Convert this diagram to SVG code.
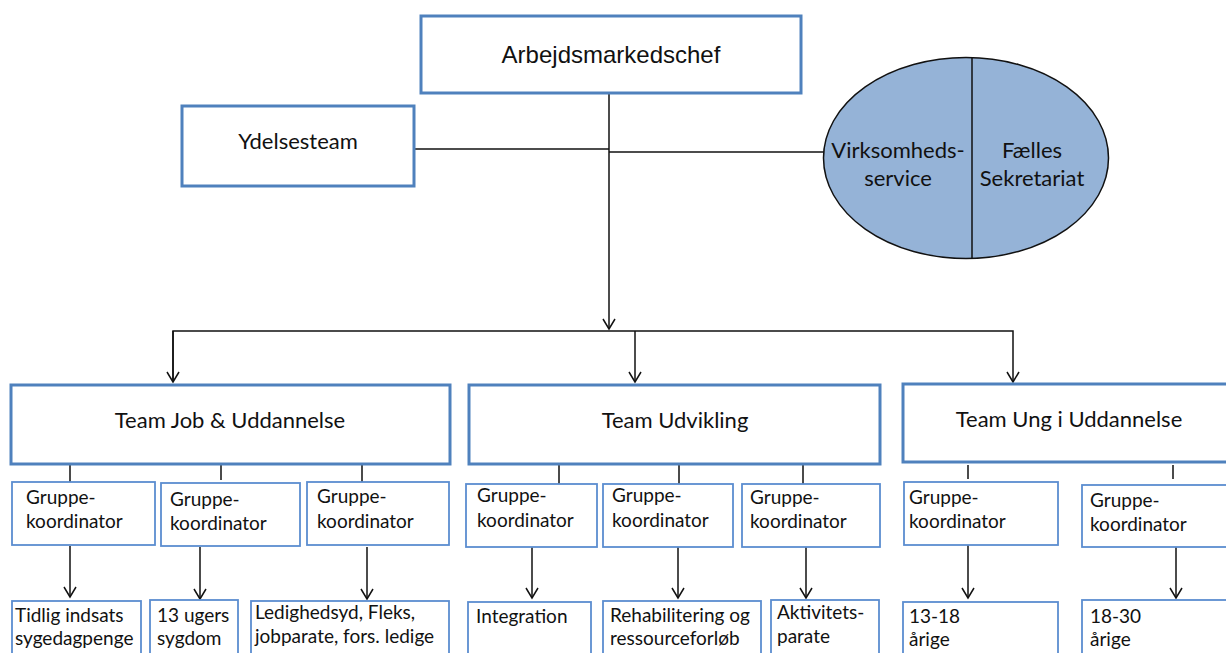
<svg xmlns="http://www.w3.org/2000/svg" width="1226" height="653" viewBox="0 0 1226 653">
<style>
.big{fill:#fff;stroke:#4F81BD;stroke-width:3}
.sm{fill:#fff;stroke:#5B8DD0;stroke-width:1.8}
.t{font-family:Lato,"Liberation Sans",sans-serif;font-size:19px;fill:#111}
.L{font-size:22px}
.c{text-anchor:middle}
.ar{font-family:"Liberation Sans",Arial,sans-serif;font-size:24px;fill:#111;text-anchor:middle}
.ln{fill:none;stroke:#111;stroke-width:1.5}
</style>
<defs>
<marker id="ah" markerUnits="userSpaceOnUse" orient="auto" refX="0" refY="0" markerWidth="14" markerHeight="14" overflow="visible">
<path d="M-10,-6 L0,0 L-10,6" fill="none" stroke="#111" stroke-width="1.5"/>
</marker>
</defs>
<g id="connectors">
<path class="ln" d="M609,93 V329" marker-end="url(#ah)"/>
<path class="ln" d="M414,149 H609"/>
<path class="ln" d="M609,152 H824"/>
<path class="ln" d="M173,382 V331 H1013 V382" marker-end="url(#ah)"/>
<path class="ln" d="M173,331 V382" marker-end="url(#ah)"/>
<path class="ln" d="M635,331 V382" marker-end="url(#ah)"/>
<path class="ln" d="M70,464 V482 M221,464 V480 M362,464 V482"/>
<path class="ln" d="M559,464 V484 M679,464 V484 M803,464 V484"/>
<path class="ln" d="M968,465 V479 M1173,465 V479"/>
<path class="ln" d="M70,546 V597" marker-end="url(#ah)"/>
<path class="ln" d="M200,547 V599" marker-end="url(#ah)"/>
<path class="ln" d="M367,547 V599" marker-end="url(#ah)"/>
<path class="ln" d="M532,547 V598" marker-end="url(#ah)"/>
<path class="ln" d="M678,547 V598" marker-end="url(#ah)"/>
<path class="ln" d="M806,547 V598" marker-end="url(#ah)"/>
<path class="ln" d="M968,545 V598" marker-end="url(#ah)"/>
<path class="ln" d="M1176,547 V598" marker-end="url(#ah)"/>
</g>
<g id="chef"><rect class="big" x="421" y="16" width="380" height="77"/><text class="ar" x="611" y="63">Arbejdsmarkedschef</text></g>
<g id="ydelsesteam"><rect class="big" x="182" y="106" width="232" height="80"/><text class="t L c" x="298" y="149">Ydelsesteam</text></g>
<g id="ellipse">
<ellipse cx="966" cy="158" rx="142.5" ry="100.5" fill="#95B3D7" stroke="#111" stroke-width="1.5"/>
<line x1="972" y1="57.5" x2="972" y2="258.5" stroke="#111" stroke-width="1.5"/>
<text class="t L c" x="898" y="158">Virksomheds-</text>
<text class="t L c" x="898" y="186">service</text>
<text class="t L c" x="1032" y="158">Fælles</text>
<text class="t L c" x="1032" y="186">Sekretariat</text>
</g>
<g id="team-job"><rect class="big" x="11" y="385" width="439" height="79"/><text class="t L c" x="230" y="428">Team Job &amp; Uddannelse</text></g>
<g id="team-udvikling"><rect class="big" x="469" y="385" width="411" height="79"/><text class="t L c" x="675" y="428">Team Udvikling</text></g>
<g id="team-ung"><rect class="big" x="903" y="384" width="335" height="78"/><text class="t L c" x="1069" y="427">Team Ung i Uddannelse</text></g>
<g id="g1"><rect class="sm" x="12" y="482" width="143" height="63"/><text class="t" x="26" y="504">Gruppe-</text><text class="t" x="26" y="528">koordinator</text></g>
<g id="g2"><rect class="sm" x="161" y="483" width="139" height="63"/><text class="t" x="170" y="506">Gruppe-</text><text class="t" x="170" y="530">koordinator</text></g>
<g id="g3"><rect class="sm" x="307" y="482" width="142" height="63"/><text class="t" x="317" y="503">Gruppe-</text><text class="t" x="317" y="528">koordinator</text></g>
<g id="g4"><rect class="sm" x="466" y="484" width="131" height="63"/><text class="t" x="477" y="502">Gruppe-</text><text class="t" x="477" y="527">koordinator</text></g>
<g id="g5"><rect class="sm" x="603" y="484" width="130" height="63"/><text class="t" x="612" y="502">Gruppe-</text><text class="t" x="612" y="527">koordinator</text></g>
<g id="g6"><rect class="sm" x="742" y="484" width="138" height="63"/><text class="t" x="750" y="504">Gruppe-</text><text class="t" x="750" y="528">koordinator</text></g>
<g id="g7"><rect class="sm" x="904" y="482" width="154" height="63"/><text class="t" x="909" y="504">Gruppe-</text><text class="t" x="909" y="528">koordinator</text></g>
<g id="g8"><rect class="sm" x="1082" y="485" width="154" height="62"/><text class="t" x="1090" y="507">Gruppe-</text><text class="t" x="1090" y="531">koordinator</text></g>
<g id="b1"><rect class="sm" x="12" y="601" width="129" height="70"/><text class="t" x="15" y="622">Tidlig indsats</text><text class="t" x="15" y="645">sygedagpenge</text></g>
<g id="b2"><rect class="sm" x="150" y="600" width="88" height="70"/><text class="t" x="157" y="622">13 ugers</text><text class="t" x="157" y="645">sygdom</text></g>
<g id="b3"><rect class="sm" x="251" y="601" width="198" height="70"/><text class="t" x="255" y="619">Ledighedsyd, Fleks,</text><text class="t" x="255" y="643">jobparate, fors. ledige</text></g>
<g id="b4"><rect class="sm" x="468" y="602" width="123" height="70"/><text class="t" x="476" y="623">Integration</text></g>
<g id="b5"><rect class="sm" x="603" y="601" width="158" height="70"/><text class="t" x="610" y="622">Rehabilitering og</text><text class="t" x="610" y="645">ressourceforløb</text></g>
<g id="b6"><rect class="sm" x="771" y="600" width="108" height="70"/><text class="t" x="777" y="619">Aktivitets-</text><text class="t" x="777" y="643">parate</text></g>
<g id="b7"><rect class="sm" x="903" y="602" width="155" height="70"/><text class="t" x="909" y="623">13-18</text><text class="t" x="909" y="646">årige</text></g>
<g id="b8"><rect class="sm" x="1082" y="600" width="154" height="70"/><text class="t" x="1090" y="623">18-30</text><text class="t" x="1090" y="646">årige</text></g>
</svg>
